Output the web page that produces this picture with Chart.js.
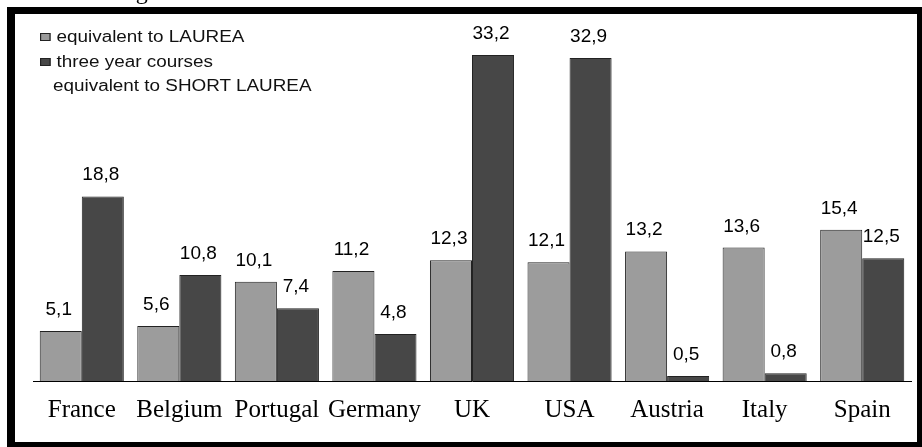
<!DOCTYPE html>
<html>
<head>
<meta charset="utf-8">
<script src="https://cdn.jsdelivr.net/npm/chart.js@4/dist/chart.umd.min.js"></script>
<style>
  body { margin: 0; background: #fff; overflow: hidden; }
  #wrap { position: relative; width: 922px; height: 447px; overflow: hidden; }
  #chart { position: absolute; left: 0; top: 0; }
  #frame {
    position: absolute; left: 7px; top: 7px; width: 902px; height: 428px;
    border-style: solid; border-color: #000;
    border-width: 7px 5px 5px 8px;
    pointer-events: none;
  }
  #caption {
    position: absolute; left: 95px; top: -21px; white-space: nowrap;
    font: 24px "Liberation Serif", serif; line-height: 24px; color: #000;
  }
  .legend {
    position: absolute; left: 40px; font: 16px "Liberation Sans", Arial, sans-serif;
    color: #111; transform-origin: left center; transform: scaleX(1.18); white-space: nowrap;
  }
  .legend i {
    display: inline-block; width: 7px; height: 6px; border: 1px solid #222;
    margin-right: 5px; vertical-align: 1px;
  }
</style>
</head>
<body>
<div id="wrap">
  <canvas id="chart" width="922" height="447"></canvas>
  <div id="caption">In figure 1 we show the data above mentioned.</div>
  <div class="legend" style="top:28px"><i style="background:#9a9a9a"></i>equivalent to LAUREA</div>
  <div class="legend" style="top:53px"><i style="background:#474747"></i>three year courses</div>
  <div class="legend" style="top:77px; left:53px">equivalent to SHORT LAUREA</div>
  <div id="frame"></div>
</div>
<script>
// Data
var countries = ['France', 'Belgium', 'Portugal', 'Germany', 'UK', 'USA', 'Austria', 'Italy', 'Spain'];
var laurea = [5.1, 5.6, 10.1, 11.2, 12.3, 12.1, 13.2, 13.6, 15.4];
var shortLaurea = [18.8, 10.8, 7.4, 4.8, 33.2, 32.9, 0.5, 0.8, 12.5];

// Draw the value above each bar, with a comma as decimal mark
var valueLabels = {
  id: 'valueLabels',
  afterDatasetsDraw: function (chart) {
    var ctx = chart.ctx;
    ctx.save();
    ctx.font = '19px "Liberation Sans", Arial, sans-serif';
    ctx.fillStyle = '#000';
    ctx.textAlign = 'center';
    ctx.textBaseline = 'alphabetic';
    chart.data.datasets.forEach(function (ds, i) {
      chart.getDatasetMeta(i).data.forEach(function (bar, j) {
        var txt = ds.data[j].toFixed(1).replace('.', ',');
        ctx.fillText(txt, bar.x - 2, bar.y - 16);
      });
    });
    ctx.restore();
  }
};

var ctx = document.getElementById('chart').getContext('2d');
var chart = new Chart(ctx, {
  type: 'bar',
  data: {
    labels: countries,
    datasets: [
      {
        label: 'equivalent to LAUREA',
        data: laurea,
        backgroundColor: '#9c9c9c',
        borderColor: '#222',
        borderWidth: 1,
      },
      {
        label: 'three year courses equivalent to SHORT LAUREA',
        data: shortLaurea,
        backgroundColor: '#474747',
        borderColor: '#222',
        borderWidth: 1,
      },
    ],
  },
  plugins: [valueLabels],
  options: {
    responsive: false,
    animation: false,
    layout: { padding: { left: 33, right: 11, top: 8, bottom: 0 } },
    barPercentage: 1,
    categoryPercentage: 0.862,
    plugins: {
      legend: { display: false },
      tooltip: { enabled: false },
    },
    scales: {
      x: {
        grid: { display: false, drawTicks: false },
        border: { display: true, color: '#000', width: 1 },
        ticks: {
          color: '#000',
          font: { family: '"Liberation Serif", serif', size: 25 },
          padding: 14,
          maxRotation: 0,
          autoSkip: false,
        },
        afterFit: function (scale) {
          scale.height = 66;
        },
      },
      y: {
        display: false,
        min: 0,
        max: 38,
      },
    },
  },
});
</script>
</body>
</html>
